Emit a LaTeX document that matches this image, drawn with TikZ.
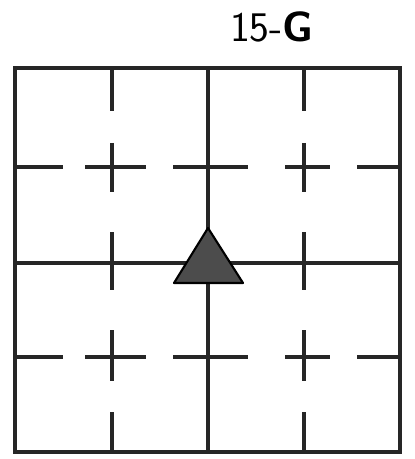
\documentclass[tikz,border=0pt]{standalone}
\usepackage{tikz}
\usetikzlibrary{calc}
\tikzset{
  %% Grid line
  gline/.style={draw=black!85, line width=2.2pt, line cap=butt},
  %% Outer frame
  frame/.style={draw=black!85, line width=2.4pt},
  %% Marker triangle
  marker/.style={draw=black, fill=black!70, line width=1.2pt, line join=round},
  %% Sheet label
  sheetlabel/.style={font=\sffamily\fontsize{24}{24}\selectfont, inner sep=0pt},
}

\begin{document}
\begin{tikzpicture}[x=0.02cm, y=-0.02cm]
  \useasboundingbox (0,0) rectangle (414,459);

  %% Outer frame
  \draw[frame] (15,68) rectangle (400,452);

  %% Centre lines
  \draw[gline] (208,68) -- (208,452);
  \draw[gline] (15,263) -- (400,263);

  %% Dashed rows with crosses
  \foreach \y in {167,357} {
    \draw[gline] (15,\y) -- (63,\y);
    \draw[gline] (85,\y) -- (146,\y);
    \draw[gline] (173,\y) -- (248,\y);
    \draw[gline] (285,\y) -- (330,\y);
    \draw[gline] (357,\y) -- (400,\y);
  }

  %% Dashed columns with crosses
  \foreach \x in {112,304} {
    \draw[gline] (\x,68) -- (\x,111);
    \draw[gline] (\x,143) -- (\x,192);
    \draw[gline] (\x,232) -- (\x,290);
    \draw[gline] (\x,330) -- (\x,381);
    \draw[gline] (\x,412) -- (\x,452);
  }

  %% Triangle marker
  \draw[marker] (208,228) -- (243,283) -- (174,283) -- cycle;

  %% Sheet label
  \node[sheetlabel] (lbl) at (272,27) {15-\textbf{G}};

\end{tikzpicture}
\end{document}
